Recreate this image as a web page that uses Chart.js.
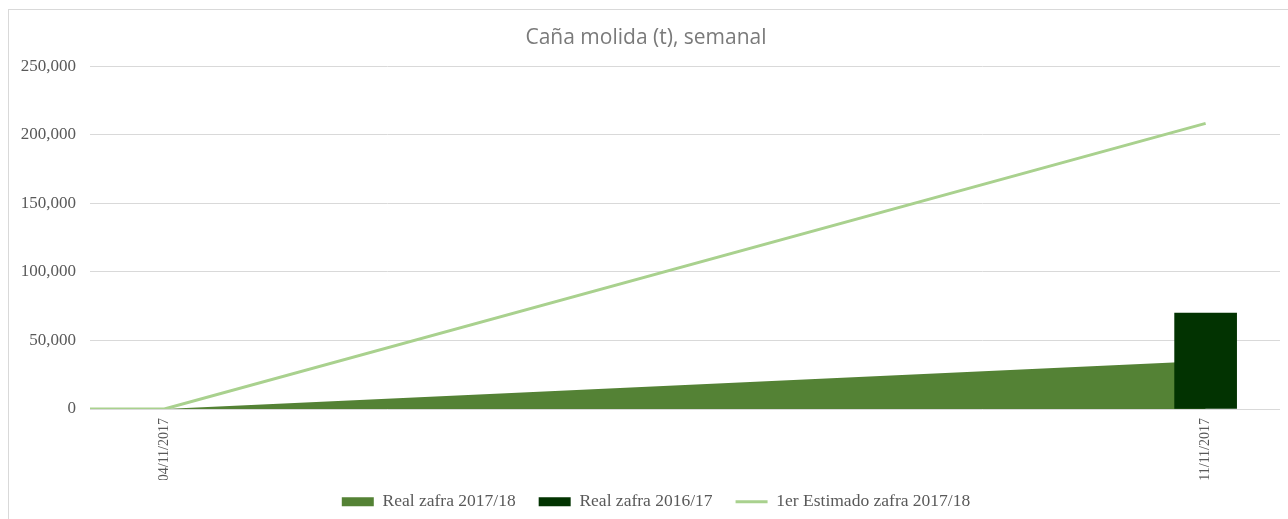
<!DOCTYPE html>
<html>
<head>
<meta charset="utf-8">
<script src="https://cdn.jsdelivr.net/npm/chart.js@4.4.1/dist/chart.umd.min.js"></script>
<style>
  html, body { margin: 0; padding: 0; background: #fff; }
  #wrap { position: relative; width: 1288px; height: 519px; overflow: hidden; }
  #marco { position: absolute; left: 8px; top: 9px; width: 1300px; height: 530px;
           border-left: 1px solid #d9d9d9; border-top: 1px solid #d9d9d9; }
  canvas { position: absolute; left: 0; top: 0; }
</style>
</head>
<body>
<div id="wrap">
  <div id="marco"></div>
  <canvas id="grafico" width="1288" height="519"></canvas>
</div>
<script>
// Semanas (la primera queda fuera del eje, solo se ve el tramo en 0)
const fechas = ['28/10/2017', '04/11/2017', '11/11/2017'];
const realZafra1718 = [0, 0, 35000];
const realZafra1617 = [null, null, 70000];
const estimadoZafra1718 = [0, 0, 208300];
const etiquetasEje = ['04/11/2017', '11/11/2017'];

// convierte dd/mm/aaaa a dias desde la primera fecha del eje
function aDia(f) {
    const [d, m, a] = f.split('/').map(Number);
    return Date.UTC(a, m - 1, d) / 86400000;
}
const dia0 = aDia(etiquetasEje[0]);
const xs = fechas.map(f => aDia(f) - dia0);
const xsEje = etiquetasEje.map(f => aDia(f) - dia0);

function puntos(valores) {
    return valores.map((v, i) => ({ x: xs[i], y: v }));
}

// la leyenda ocupa menos alto que lo que pide Chart.js; titulo y leyenda algo corridos
const ajusteLeyenda = {
    id: 'ajusteLeyenda',
    afterInit(chart) {
        const leyenda = chart.legend;
        const fitOriginal = leyenda.fit;
        leyenda.fit = function () {
            fitOriginal.call(this);
            this.height = 39;
        };
    },
    afterUpdate(chart) {
        const l = chart.legend;
        l.top -= 10; l.bottom -= 10;
        l.left += 16; l.right += 16;
        const t = chart.titleBlock;
        t.top += 2; t.bottom += 2;
        t.left += 6; t.right += 6;
    }
};

const ctx = document.getElementById('grafico').getContext('2d');
new Chart(ctx, {
    data: {
        datasets: [
            {
                type: 'line',
                label: 'Real zafra 2017/18',
                data: puntos(realZafra1718),
                backgroundColor: '#548235',
                borderColor: '#548235',
                borderWidth: 0,
                fill: 'origin',
                pointRadius: 0,
                pointStyle: 'rect',
                tension: 0,
                clip: 0,
                order: 3
            },
            {
                type: 'bar',
                label: 'Real zafra 2016/17',
                data: puntos(realZafra1617),
                backgroundColor: '#023301',
                borderColor: '#023301',
                borderWidth: 0,
                barThickness: 62,
                pointStyle: 'rect',
                order: 2
            },
            {
                type: 'line',
                label: '1er Estimado zafra 2017/18',
                data: puntos(estimadoZafra1718),
                borderColor: '#a9d18e',
                backgroundColor: '#a9d18e',
                borderWidth: 3,
                fill: false,
                pointRadius: 0,
                pointStyle: 'line',
                tension: 0,
                clip: 0,
                order: 1
            }
        ]
    },
    options: {
        responsive: false,
        animation: false,
        layout: { padding: { left: 0, right: 8, top: 0, bottom: 0 } },
        scales: {
            x: {
                type: 'linear',
                offset: false,
                min: xsEje[0] - 0.5,
                max: xsEje[xsEje.length - 1] + 0.5,
                afterBuildTicks: function (scale) {
                    scale.ticks = xsEje.map(v => ({ value: v }));
                },
                afterFit: function (scale) { scale.height = 71; },
                grid: { display: false, drawTicks: false, offset: false },
                border: { display: false },
                ticks: {
                    minRotation: 90,
                    maxRotation: 90,
                    autoSkip: false,
                    padding: 9,
                    color: '#595959',
                    font: { family: 'Liberation Serif', size: 14 },
                    callback: function (v) {
                        const i = xsEje.indexOf(v);
                        return i >= 0 ? etiquetasEje[i] : '';
                    }
                }
            },
            y: {
                min: 0,
                max: 250000,
                afterFit: function (scale) { scale.width = 90; },
                grid: { color: '#d9d9d9', lineWidth: 1, drawTicks: false },
                border: { display: false },
                ticks: {
                    stepSize: 50000,
                    padding: 14,
                    color: '#595959',
                    font: { family: 'Liberation Serif', size: 17 },
                    callback: v => v.toLocaleString('en-US')
                }
            }
        },
        plugins: {
            title: {
                display: true,
                text: 'Caña molida (t), semanal',
                color: '#7a7a7a',
                font: { family: 'Open Sans', size: 21, weight: 'normal' },
                padding: { top: 23, bottom: 18 }
            },
            legend: {
                position: 'bottom',
                labels: {
                    usePointStyle: true,
                    pointStyleWidth: 32,
                    boxHeight: 9,
                    padding: 23,
                    color: '#595959',
                    font: { family: 'Liberation Serif', size: 17.5 },
                    sort: (a, b) => a.datasetIndex - b.datasetIndex
                }
            },
            tooltip: { enabled: false }
        }
    },
    plugins: [ajusteLeyenda]
});
</script>
</body>
</html>
